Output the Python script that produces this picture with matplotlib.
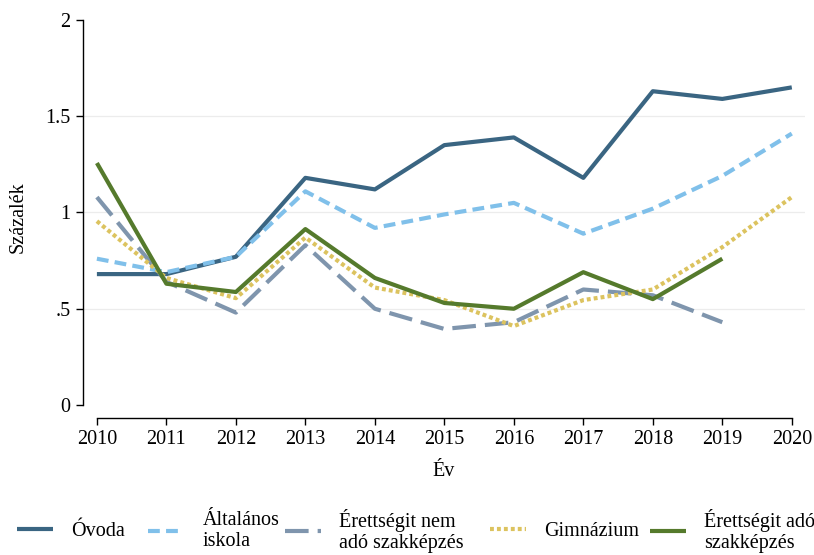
import matplotlib
matplotlib.use('Agg')
import matplotlib.pyplot as plt

plt.rcParams['font.family'] = ['Liberation Serif', 'DejaVu Serif']
plt.rcParams['lines.scale_dashes'] = False

years = [2010, 2011, 2012, 2013, 2014, 2015, 2016, 2017, 2018, 2019, 2020]
ovoda = [0.68, 0.68, 0.77, 1.18, 1.12, 1.35, 1.39, 1.18, 1.63, 1.59, 1.65]
altalanos = [0.76, 0.69, 0.77, 1.11, 0.92, 0.99, 1.05, 0.89, 1.02, 1.19, 1.41]
nem_ado = [1.08, 0.64, 0.48, 0.83, 0.50, 0.395, 0.43, 0.60, 0.57, 0.43]
gimnazium = [0.955, 0.66, 0.555, 0.87, 0.61, 0.545, 0.41, 0.545, 0.60, 0.82, 1.08]
ado = [1.257, 0.63, 0.587, 0.914, 0.66, 0.53, 0.50, 0.69, 0.55, 0.76]

labels = ['Óvoda', 'Általános\niskola', 'Érettségit nem\nadó szakképzés',
          'Gimnázium', 'Érettségit adó\nszakképzés']
colors = ['#3a6582', '#80c0ea', '#7f95ad', '#dcc35f', '#557a2c']

fig = plt.figure(figsize=(8.14, 5.55), dpi=100)
ax = fig.add_axes([83 / 814, 1 - 418 / 555, 722 / 814, 398 / 555])

for yv in [0.5, 1.0, 1.5]:
    ax.axhline(yv, color='#ececec', lw=0.9, zorder=0)

lw = 3.0
lines = []
lines += ax.plot(years, ovoda, color=colors[0], lw=lw,
                 solid_capstyle='butt', clip_on=False)
lines += ax.plot(years, altalanos, color=colors[1], lw=lw,
                 dashes=(8.5, 4.5), dash_capstyle='butt', clip_on=False)
lines += ax.plot(years[:10], nem_ado, color=colors[2], lw=lw,
                 dashes=(17, 6.5), dash_capstyle='butt', clip_on=False)
lines += ax.plot(years, gimnazium, color=colors[3], lw=lw,
                 dashes=(2.8, 2.2), dash_capstyle='butt', clip_on=False)
lines += ax.plot(years[:10], ado, color=colors[4], lw=lw,
                 solid_capstyle='butt', clip_on=False)

ax.set_xlim(2009.8, 2020.19)
ax.set_ylim(-13 / 192.5, 2.0)

for s in ['top', 'right']:
    ax.spines[s].set_visible(False)
ax.spines['left'].set_bounds(0, 2)
ax.spines['bottom'].set_bounds(2010, 2020)
ax.spines['left'].set_linewidth(1.0)
ax.spines['bottom'].set_linewidth(1.0)

ax.set_xticks(years)
ax.set_xticklabels([str(y) for y in years])
ax.set_yticks([0, 0.5, 1, 1.5, 2])
ax.set_yticklabels(['0', '.5', '1', '1.5', '2'])
ax.tick_params(axis='both', labelsize=14.5, length=5, width=1.0, pad=4)

ax.set_xlabel('Év', fontsize=14.5, labelpad=9)
ax.set_ylabel('Százalék', fontsize=14.5)
# centre the y title on the 0-2 range, as Stata does
ax.yaxis.set_label_coords(-0.077, 0.505)

# legend entries placed one by one, like the Stata legend row
leg_x = [17, 148, 285, 490, 650]
for line, lab, x in zip(lines, labels, leg_x):
    fig.legend(handles=[line], labels=[lab], loc='center left',
               bbox_to_anchor=(x / 814, 1 - 531 / 555), frameon=False,
               fontsize=14.5, handlelength=1.8, handletextpad=0.9,
               borderpad=0, borderaxespad=0, labelspacing=0.1)

plt.savefig('out.png', dpi=100)
